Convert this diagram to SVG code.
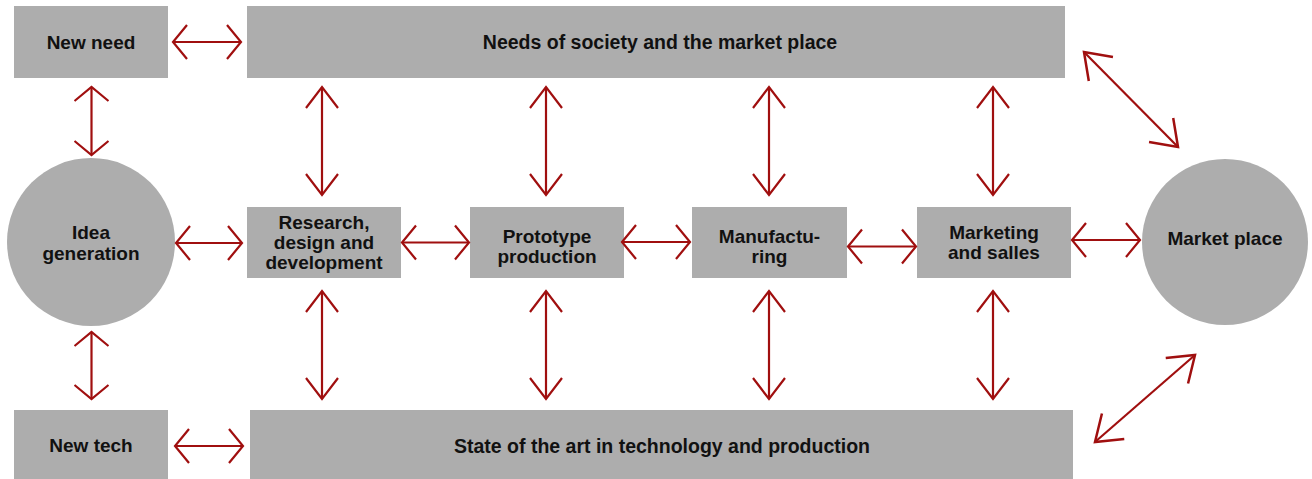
<svg xmlns="http://www.w3.org/2000/svg" width="1312" height="479" viewBox="0 0 1312 479">
<style>
.box{fill:#adadad}
.lbl{font-family:"Liberation Sans",Arial,sans-serif;font-weight:bold;font-size:19px;fill:#111;text-anchor:middle}
.con{fill:none;stroke:#a00f0f;stroke-width:2.2}
.s{marker-start:url(#hs);marker-end:url(#hs)}
.l{marker-start:url(#hl);marker-end:url(#hl)}
.d{marker-start:url(#hd);marker-end:url(#hd)}
</style>
<defs>
<marker id="hs" markerUnits="userSpaceOnUse" orient="auto-start-reverse" overflow="visible" refX="0" refY="0" markerWidth="1" markerHeight="1"><path d="M-14,-17 L0,0 L-14,17" fill="none" stroke="#a00f0f" stroke-width="2.2"/></marker>
<marker id="hl" markerUnits="userSpaceOnUse" orient="auto-start-reverse" overflow="visible" refX="0" refY="0" markerWidth="1" markerHeight="1"><path d="M-21,-16 L0,0 L-21,16" fill="none" stroke="#a00f0f" stroke-width="2.2"/></marker>
<marker id="hd" markerUnits="userSpaceOnUse" orient="auto-start-reverse" overflow="visible" refX="0" refY="0" markerWidth="1" markerHeight="1"><path d="M-24,-17 L0,0 L-24,17" fill="none" stroke="#a00f0f" stroke-width="2.5"/></marker>
</defs>
<rect width="1312" height="479" fill="#fff"/>
<g id="new-need"><rect class="box" x="14" y="6" width="154" height="72"/><text class="lbl" x="91" y="49">New need</text></g>
<g id="needs-society"><rect class="box" x="247" y="6" width="818" height="72"/><text class="lbl" x="660" y="49" style="font-size:19.5px">Needs of society and the market place</text></g>
<g id="idea-generation"><circle class="box" cx="91" cy="242" r="84"/><text class="lbl" x="91" y="239">Idea</text><text class="lbl" x="91" y="259.5">generation</text></g>
<g id="research"><rect class="box" x="247" y="207" width="154" height="71"/><text class="lbl" x="324" y="228.5">Research,</text><text class="lbl" x="324" y="248.5">design and</text><text class="lbl" x="324" y="268.5">development</text></g>
<g id="prototype"><rect class="box" x="470" y="207" width="154" height="71"/><text class="lbl" x="547" y="242.5">Prototype</text><text class="lbl" x="547" y="262.5">production</text></g>
<g id="manufacturing"><rect class="box" x="692" y="207" width="155" height="71"/><text class="lbl" x="769.5" y="242.5">Manufactu-</text><text class="lbl" x="769.5" y="262.5">ring</text></g>
<g id="marketing"><rect class="box" x="917" y="207" width="154" height="71"/><text class="lbl" x="994" y="239">Marketing</text><text class="lbl" x="994" y="259">and salles</text></g>
<g id="market-place"><circle class="box" cx="1225" cy="242" r="83"/><text class="lbl" x="1225" y="245">Market place</text></g>
<g id="new-tech"><rect class="box" x="14" y="410" width="154" height="72"/><text class="lbl" x="91" y="452">New tech</text></g>
<g id="state-of-art"><rect class="box" x="250" y="410" width="823" height="72"/><text class="lbl" x="662" y="453" style="font-size:19.5px">State of the art in technology and production</text></g>
<g id="connectors">
<path class="con s" d="M173,42 H241"/>
<path class="con s" d="M91.5,87 V155"/>
<path class="con s" d="M91.5,332 V399"/>
<path class="con s" d="M176,243 H242"/>
<path class="con s" d="M402,242.5 H469"/>
<path class="con s" d="M622,242 H690"/>
<path class="con s" d="M848,246.5 H916"/>
<path class="con s" d="M1072,240 H1140"/>
<path class="con s" d="M175,446 H243"/>
<path class="con l" d="M322,87 V195"/>
<path class="con l" d="M546,87 V195"/>
<path class="con l" d="M769,87 V195"/>
<path class="con l" d="M993,87 V195"/>
<path class="con l" d="M322,291 V399"/>
<path class="con l" d="M546,291 V399"/>
<path class="con l" d="M769,291 V399"/>
<path class="con l" d="M993,291 V399"/>
<path class="con d" d="M1084,52 L1178,147"/>
<path class="con d" d="M1195,355 L1095,442"/>
</g>
</svg>
